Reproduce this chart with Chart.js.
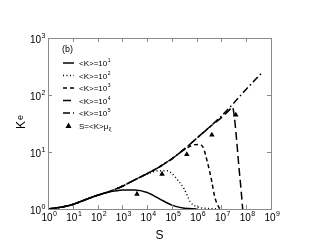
<!DOCTYPE html>
<html>
<head>
<meta charset="utf-8">
<script src="https://cdn.jsdelivr.net/npm/chart.js@4"></script>
<style>
  html, body { margin: 0; padding: 0; background: #fff; }
  #wrap { width: 319px; height: 247px; }
</style>
</head>
<body>
<div id="wrap"><canvas id="grafico" width="319" height="247"></canvas></div>
<script>
// valores (S no eixo x, K_e no eixo y)
const sEnv = [1, 3.16, 10, 31.6, 100, 316, 1e3, 3.16e3, 1e4, 3.16e4, 1e5, 3.16e5, 1e6, 3.16e6, 1e7, 3.16e7, 1e8, 4.5e8];
const kEnv = [1, 1.07, 1.2, 1.45, 1.74, 2.04, 2.51, 3.24, 4.17, 5.5, 7.6, 11.2, 17.4, 26.9, 42.7, 72.4, 126, 251];

const s1 = [1, 3.16, 10, 31.6, 100, 316, 600, 1e3, 3.16e3, 1e4, 3.16e4, 1e5, 3.16e5, 1e6];
const k1 = [1, 1.07, 1.2, 1.45, 1.74, 2.0, 2.1, 2.16, 2.16, 1.95, 1.51, 1.17, 1.035, 1.0];

const s2 = [1, 3.16, 10, 31.6, 100, 316, 1e3, 3.16e3, 1e4, 3.16e4, 6.3e4, 1e5, 1.78e5, 3.16e5, 5.6e5, 1e6, 3.16e6, 7.9e6];
const k2 = [1, 1.07, 1.2, 1.45, 1.74, 2.04, 2.51, 3.24, 4.1, 4.7, 4.7, 4.2, 3.16, 2.24, 1.32, 1.1, 1.02, 1.0];

const s3 = [1, 3.16, 10, 31.6, 100, 316, 1e3, 3.16e3, 1e4, 3.16e4, 1e5, 3.16e5, 7e5, 1.26e6, 1.78e6, 2.8e6, 4e6, 5.4e6, 7.9e6, 1e7];
const k3 = [1, 1.07, 1.2, 1.45, 1.74, 2.04, 2.51, 3.24, 4.17, 5.5, 7.6, 11.0, 13.2, 13.5, 12.3, 6.3, 3.16, 1.62, 1.07, 1.0];

const s4 = [1, 3.16, 10, 31.6, 100, 316, 1e3, 3.16e3, 1e4, 3.16e4, 1e5, 3.16e5, 1e6, 3.16e6, 1e7, 2e7, 2.8e7, 3.3e7, 4e7, 5e7, 6.3e7, 7.2e7];
const k4 = [1, 1.07, 1.2, 1.45, 1.74, 2.04, 2.51, 3.24, 4.17, 5.5, 7.6, 11.2, 17.4, 26.9, 40, 53.7, 61.7, 41.7, 18.2, 5.9, 2.0, 1.0];

const sTri = [3.9e3, 4e4, 4e5, 4.1e6, 3.8e7];
const kTri = [1.83, 4.1, 9.1, 20, 44.7];

const xExps = [0, 1, 2, 3, 4, 5, 6, 7, 8, 9];
const yExps = [0, 1, 2, 3];
const legendExps = ['1', '2', '3', '4', '5'];

const fonte = '"Liberation Sans", Arial, Helvetica, sans-serif';
const dashes = [[], [1, 2.5], [4, 3], [8, 4], [7, 3, 1.5, 3]];

function pts(xs, ys) {
  return xs.map((x, i) => ({ x: x, y: ys[i] }));
}

function serie(xs, ys, dash) {
  return {
    data: pts(xs, ys),
    borderColor: '#000',
    borderWidth: 1.5,
    borderDash: dash,
    pointRadius: 0,
    fill: false,
    cubicInterpolationMode: 'monotone'
  };
}

// texto com expoente (10^n)
function textoPot(ctx, base, exp, x, y, size, align) {
  ctx.font = size + 'px ' + fonte;
  const wb = ctx.measureText(base).width;
  ctx.font = Math.round(size * 0.68) + 'px ' + fonte;
  const we = ctx.measureText(exp).width;
  let x0 = x;
  if (align === 'center') x0 = x - (wb + we) / 2;
  if (align === 'right') x0 = x - wb - we;
  ctx.textAlign = 'left';
  ctx.textBaseline = 'middle';
  ctx.font = size + 'px ' + fonte;
  ctx.fillText(base, x0, y);
  ctx.font = Math.round(size * 0.68) + 'px ' + fonte;
  ctx.fillText(exp, x0 + wb + 0.5, y - size * 0.42);
}

const moldura = {
  id: 'moldura',
  afterDraw(chart) {
    const ctx = chart.ctx;
    const a = chart.chartArea;
    const sx = chart.scales.x, sy = chart.scales.y;
    ctx.save();
    ctx.strokeStyle = '#8a8a8a';
    ctx.lineWidth = 1;
    ctx.strokeRect(a.left + 0.5, a.top + 0.5, a.right - a.left, a.bottom - a.top);
    ctx.beginPath();
    xExps.forEach(e => {
      const px = Math.round(sx.getPixelForValue(Math.pow(10, e))) + 0.5;
      ctx.moveTo(px, a.bottom); ctx.lineTo(px, a.bottom - 4);
      ctx.moveTo(px, a.top); ctx.lineTo(px, a.top + 4);
    });
    yExps.forEach(e => {
      const py = Math.round(sy.getPixelForValue(Math.pow(10, e))) + 0.5;
      ctx.moveTo(a.left, py); ctx.lineTo(a.left + 4, py);
      ctx.moveTo(a.right, py); ctx.lineTo(a.right - 4, py);
    });
    ctx.stroke();

    ctx.fillStyle = '#000';
    xExps.forEach(e => {
      const px = sx.getPixelForValue(Math.pow(10, e));
      textoPot(ctx, '10', String(e), px + 1, a.bottom + 9, 10, 'center');
    });
    yExps.forEach(e => {
      const py = sy.getPixelForValue(Math.pow(10, e));
      textoPot(ctx, '10', String(e), a.left - 3, py + (e === 0 ? 2 : 2), 10, 'right');
    });

    // titulos dos eixos
    ctx.textAlign = 'center';
    ctx.textBaseline = 'middle';
    ctx.font = '12px ' + fonte;
    ctx.fillText('S', (a.left + a.right) / 2, 236);
    ctx.save();
    ctx.translate(22, 123);
    ctx.rotate(-Math.PI / 2);
    ctx.textAlign = 'left';
    ctx.font = '12px ' + fonte;
    ctx.fillText('K', -6, 0);
    ctx.font = '9px ' + fonte;
    ctx.fillText('e', 3, -1);
    ctx.restore();

    // legenda
    ctx.textAlign = 'left';
    ctx.font = '9px ' + fonte;
    ctx.fillText('(b)', 62, 50);
    const rows = [63, 75.5, 88, 100.5, 113];
    rows.forEach((y, i) => {
      ctx.strokeStyle = '#000';
      ctx.lineWidth = 1.5;
      ctx.setLineDash(dashes[i]);
      ctx.beginPath();
      ctx.moveTo(63, y); ctx.lineTo(74, y);
      ctx.stroke();
      ctx.setLineDash([]);
      textoPot(ctx, '<K>=10', legendExps[i], 79, y + 1, 8, 'left');
    });
    const yt = 125.5;
    ctx.beginPath();
    ctx.moveTo(68.5, yt - 3); ctx.lineTo(71.5, yt + 2.5); ctx.lineTo(65.5, yt + 2.5);
    ctx.closePath();
    ctx.fill();
    ctx.font = '8px ' + fonte;
    ctx.textBaseline = 'middle';
    const base = 'S=<K>\u03bc';
    ctx.fillText(base, 79, yt + 1);
    const wb = ctx.measureText(base).width;
    ctx.font = '6px ' + fonte;
    ctx.fillText('\u03be', 79 + wb + 0.5, yt + 4);
    ctx.restore();
  }
};

new Chart(document.getElementById('grafico').getContext('2d'), {
  type: 'line',
  data: {
    datasets: [
      serie(s1, k1, dashes[0]),
      serie(s2, k2, dashes[1]),
      serie(s3, k3, dashes[2]),
      serie(s4, k4, dashes[3]),
      serie(sEnv, kEnv, dashes[4]),
      {
        data: pts(sTri, kTri),
        showLine: false,
        pointStyle: 'triangle',
        pointRadius: 3.2,
        backgroundColor: '#000',
        borderColor: '#000',
        borderWidth: 0
      }
    ]
  },
  options: {
    responsive: false,
    animation: false,
    layout: { padding: { left: 48, top: 38, right: 48, bottom: 38 } },
    plugins: { legend: { display: false }, tooltip: { enabled: false } },
    scales: {
      x: { type: 'logarithmic', min: 1, max: 1e9, display: false },
      y: { type: 'logarithmic', min: 1, max: 1000, display: false }
    }
  },
  plugins: [moldura]
});
</script>
</body>
</html>
